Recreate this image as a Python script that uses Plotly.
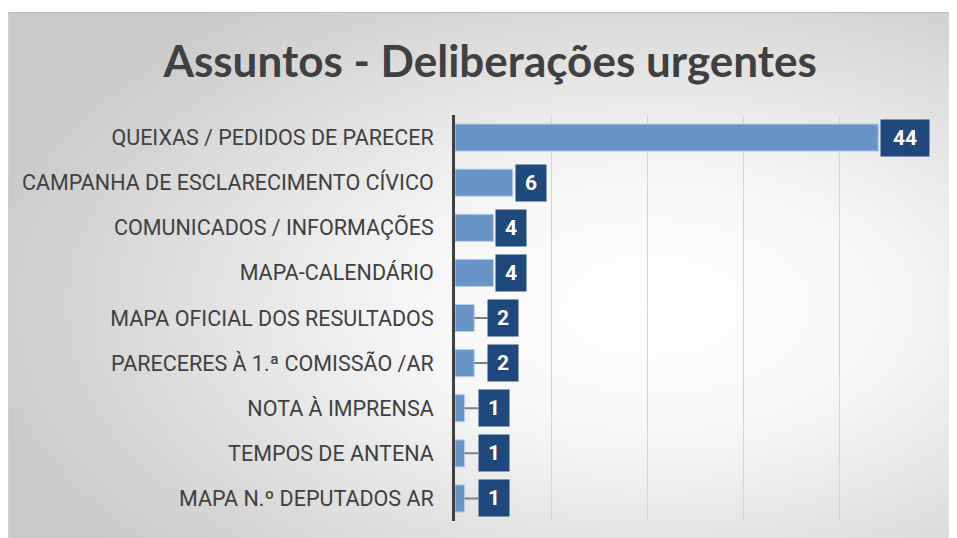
import base64
import plotly.graph_objects as go

categories = [
    "QUEIXAS / PEDIDOS DE PARECER",
    "CAMPANHA DE ESCLARECIMENTO CÍVICO",
    "COMUNICADOS / INFORMAÇÕES",
    "MAPA-CALENDÁRIO",
    "MAPA OFICIAL DOS RESULTADOS",
    "PARECERES À 1.ª COMISSÃO /AR",
    "NOTA À IMPRENSA",
    "TEMPOS DE ANTENA",
    "MAPA N.º DEPUTADOS AR",
]
values = [44, 6, 4, 4, 2, 2, 1, 1, 1]
title_text = "Assuntos - Deliberações urgentes"

# page body adds an 8px margin; the figure sits at (8, 8)
W, H = 949, 530
ML, MR, MT, MB = 447, 21, 107, 17
PW, PH = W - ML - MR, H - MT - MB

svg = (
    "<svg xmlns='http://www.w3.org/2000/svg' width='949' height='530' preserveAspectRatio='none'>"
    "<defs><radialGradient id='g' cx='0.68' cy='0.56' r='0.73'>"
    "<stop offset='0' stop-color='#ffffff'/><stop offset='0.35' stop-color='#f6f6f6'/>"
    "<stop offset='1' stop-color='#c9c9c9'/></radialGradient></defs>"
    "<rect width='949' height='530' fill='#ffffff'/>"
    "<rect x='0' y='4' width='949' height='526' fill='url(#g)'/>"
    "<rect x='0' y='4' width='949' height='1' fill='#bdbdbd'/>"
    "<rect x='0' y='4' width='1' height='526' fill='#d0d0d0'/>"
    "</svg>"
)
src = "data:image/svg+xml;base64," + base64.b64encode(svg.encode()).decode()

fig = go.Figure()
fig.add_trace(go.Bar(
    x=values, y=categories, orientation="h",
    marker=dict(color="#6894c8", line=dict(color="#b9cde8", width=1)),
    width=0.6, hoverinfo="x+y",
))

for c, v in zip(categories, values):
    s = str(v)
    bw = 48 if len(s) > 1 else 30
    small = v <= 2
    gap = 14 if small else 3
    fig.add_annotation(
        x=v, y=c, text="<b>%s</b>" % s, showarrow=True,
        axref="pixel", ayref="pixel", ax=gap + bw / 2, ay=0,
        arrowhead=0, arrowwidth=2, arrowcolor="#7f7f7f" if small else "rgba(0,0,0,0)",
        standoff=0, startstandoff=0,
        font=dict(family="Roboto", size=21, color="white"),
        bgcolor="#1f497d", width=bw, height=36, borderpad=0,
        align="center", valign="middle",
    )

fig.add_layout_image(
    source=src, xref="paper", yref="paper",
    x=-ML / PW, y=(H - MB) / PH,
    sizex=W / PW, sizey=H / PH,
    xanchor="left", yanchor="top", sizing="stretch", layer="below",
)

fig.update_layout(
    width=W, height=H,
    margin=dict(l=ML, r=MR, t=MT, b=MB),
    paper_bgcolor="#cdcdcd", plot_bgcolor="rgba(0,0,0,0)",
    showlegend=False,
    title=dict(text="<b>%s</b>" % title_text, x=0.508, xanchor="center", y=(H - 54) / H, yanchor="middle",
               font=dict(family="Lato", size=44, color="#404040")),
    xaxis=dict(range=[0, 50], dtick=10, showticklabels=False, showgrid=True,
               gridcolor="#d4d4d4", gridwidth=1, zeroline=False, fixedrange=True),
    yaxis=dict(autorange="reversed", showgrid=False, ticks="", ticklabelstandoff=14,
               tickfont=dict(family="Roboto", size=21.5, color="#404040"),
               showline=True, linecolor="#404040", linewidth=3),
)

fig.write_html("out.html")
